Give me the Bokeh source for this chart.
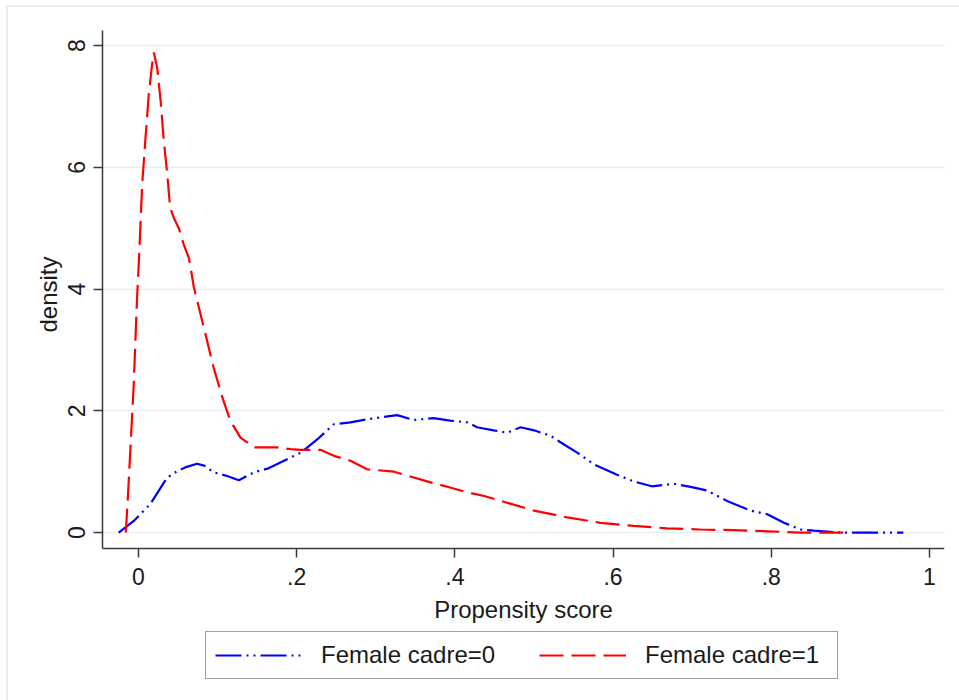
from bokeh.plotting import figure
from bokeh.models import (Range1d, FixedTicker, Legend, LegendItem, ColumnDataSource,
                          LinearAxis, Title)
from bokeh.embed import file_html
from bokeh.resources import INLINE

# ---- data ----
x_ticks = [0, 0.2, 0.4, 0.6, 0.8, 1.0]
x_tick_labels = ["0", ".2", ".4", ".6", ".8", "1"]
y_ticks = [0, 2, 4, 6, 8]

cadre0_x = [-0.025, -0.006, 0.015, 0.036, 0.049, 0.061, 0.074, 0.083, 0.095, 0.112,
            0.127, 0.146, 0.163, 0.184, 0.205, 0.226, 0.247, 0.268, 0.289, 0.31,
            0.327, 0.348, 0.373, 0.394, 0.416, 0.428, 0.449, 0.466, 0.483, 0.50,
            0.521, 0.534, 0.555, 0.576, 0.605, 0.626, 0.649, 0.677, 0.698, 0.719,
            0.744, 0.774, 0.795, 0.816, 0.837, 0.854, 0.887, 0.967]
cadre0_y = [0.0, 0.19, 0.47, 0.90, 1.01, 1.08, 1.13, 1.10, 0.99, 0.93,
            0.86, 0.99, 1.05, 1.18, 1.31, 1.53, 1.78, 1.81, 1.86, 1.90,
            1.93, 1.85, 1.88, 1.84, 1.81, 1.73, 1.68, 1.64, 1.73, 1.68,
            1.59, 1.48, 1.31, 1.12, 0.95, 0.84, 0.76, 0.80, 0.75, 0.69,
            0.52, 0.36, 0.30, 0.16, 0.05, 0.03, 0.0, 0.0]

cadre1_x = [-0.016, -0.013, -0.006, -0.002, 0.001, 0.0047, 0.0089, 0.013, 0.0173, 0.0194,
            0.0236, 0.028, 0.032, 0.0363, 0.040, 0.0447, 0.051, 0.057, 0.064, 0.07,
            0.0826, 0.095, 0.106, 0.116, 0.129, 0.146, 0.175, 0.192, 0.205, 0.23,
            0.247, 0.268, 0.289, 0.323, 0.365, 0.394, 0.416, 0.437, 0.466, 0.50,
            0.542, 0.584, 0.626, 0.668, 0.71, 0.752, 0.795, 0.837, 0.896]
cadre1_y = [0.0, 0.68, 2.44, 3.8, 4.6, 5.73, 6.49, 7.2, 7.7, 7.89,
            7.64, 7.09, 6.44, 5.9, 5.34, 5.17, 5.0, 4.74, 4.5, 4.03,
            3.37, 2.71, 2.22, 1.84, 1.56, 1.40, 1.40, 1.37, 1.36, 1.36,
            1.26, 1.18, 1.04, 1.0, 0.84, 0.74, 0.66, 0.60, 0.49, 0.36,
            0.25, 0.16, 0.11, 0.07, 0.05, 0.04, 0.02, 0.0, 0.0]

series_labels = ["Female cadre=0", "Female cadre=1"]

FONT = "Liberation Sans"
TXT = "#1a1a1a"
AX = "#3a3a3a"
FRAME = "#e6eef0"
Y_LO, Y_HI = -0.27, 8.25   # extent of the plot region (axis lines)

p = figure(frame_width=842, frame_height=670,
           x_range=Range1d(-0.0455, 1.019), y_range=Range1d(-2.76, Y_HI),
           x_axis_location=None,
           output_backend="svg", toolbar_location=None,
           min_border_left=102, min_border_right=15,
           min_border_top=30, min_border_bottom=0)
p.outline_line_color = None
p.background_fill_color = "white"
p.border_fill_color = None
# light outer graph-region frame (left and top edges)
p.styles = {
    "background": (f"linear-gradient({FRAME},{FRAME}) 6px 5px / 2px 100% no-repeat, "
                   f"linear-gradient({FRAME},{FRAME}) 6px 5px / 100% 2px no-repeat, white"),
}

p.xgrid.visible = False
p.ygrid.grid_line_color = FRAME
p.ygrid.grid_line_width = 1.5

src0 = ColumnDataSource(dict(x=cadre0_x, y=cadre0_y))
src1 = ColumnDataSource(dict(x=cadre1_x, y=cadre1_y))
r0 = p.line("x", "y", source=src0, line_color="#0000ff", line_width=2.2,
            line_dash="26 5 2 5 2 5")
r1 = p.line("x", "y", source=src1, line_color="#ff0000", line_width=2.2,
            line_dash="24 8")

xaxis = LinearAxis(fixed_location=Y_LO, ticker=FixedTicker(ticks=x_ticks),
                   major_label_overrides=dict(zip(x_ticks, x_tick_labels)),
                   axis_label="Propensity score")
p.add_layout(xaxis, "below")

p.yaxis.ticker = FixedTicker(ticks=y_ticks)
p.yaxis.major_label_orientation = "vertical"
p.yaxis.bounds = (Y_LO, Y_HI)

for ax in (xaxis, p.yaxis[0]):
    ax.axis_line_color = AX
    ax.axis_line_width = 1.5
    ax.major_tick_line_color = AX
    ax.major_tick_line_width = 1.5
    ax.major_tick_out = 9
    ax.major_tick_in = 0
    ax.minor_tick_line_color = None
    ax.major_label_text_font = FONT
    ax.major_label_text_font_size = "23px"
    ax.major_label_text_color = TXT
    ax.axis_label_text_font = FONT
    ax.axis_label_text_font_size = "24px"
    ax.axis_label_text_font_style = "normal"
    ax.axis_label_text_color = TXT

xaxis.major_label_standoff = 10
xaxis.axis_label_standoff = 8
p.yaxis.major_label_standoff = 8

# y-axis title, centred on the plot region (not the taller frame)
p.add_layout(Title(text="density", align="left", offset=368, standoff=8,
                   text_font=FONT, text_font_size="24px", text_font_style="normal",
                   text_color=TXT), "left")

legend = Legend(items=[LegendItem(label=series_labels[0], renderers=[r0]),
                       LegendItem(label=series_labels[1], renderers=[r1])],
                orientation="horizontal", location=(103, 21),
                glyph_width=87, glyph_height=20, label_standoff=19,
                label_width=183, spacing=35, padding=9, margin=0,
                border_line_color="#404040", border_line_width=1.5,
                label_text_font=FONT, label_text_font_size="24px",
                label_text_color=TXT, background_fill_color="white")
p.add_layout(legend, "center")

open("out.html", "w").write(file_html(p, INLINE))
